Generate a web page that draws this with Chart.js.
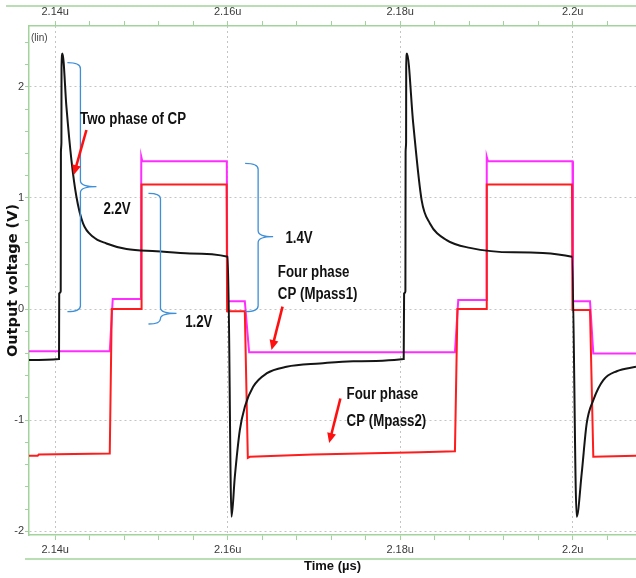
<!DOCTYPE html>
<html>
<head>
<meta charset="utf-8">
<script src="https://cdn.jsdelivr.net/npm/chart.js@4.4.1/dist/chart.umd.min.js"></script>
<style>
  html, body { margin: 0; padding: 0; background: #fff; }
  #wrap { width: 636px; height: 578px; }
</style>
</head>
<body>
<div id="wrap"><canvas id="cpChart" width="636" height="578"></canvas></div>
<script>
// time in us, voltage in V

// two phase charge pump (black)
const twoPhaseT = [2.136961, 2.140441, 2.140464, 2.140638, 2.140661, 2.140719, 2.140731, 2.140835,
  2.141299, 2.141879, 2.142459, 2.143225, 2.144385, 2.145940, 2.148260, 2.151740, 2.155603, 2.160012,
  2.160441, 2.160824, 2.161404, 2.161984, 2.162947, 2.164501, 2.166821, 2.170684, 2.174548, 2.180406,
  2.180452, 2.180603, 2.180626, 2.180684, 2.180696, 2.180777,
  2.181508, 2.182483, 2.183445, 2.185383, 2.188086, 2.193109, 2.199919,
  2.200464, 2.201044, 2.201624, 2.202390, 2.203550, 2.205104, 2.207343];
const twoPhaseV = [-0.46, -0.45, 0.14, 0.16, 1.41, 1.50, 2.17, 2.30,
  1.82, 1.34, 1.01, 0.77, 0.65, 0.59, 0.54, 0.52, 0.50, 0.47,
  -1.87, -1.51, -1.09, -0.88, -0.70, -0.58, -0.52, -0.49, -0.47, -0.45,
  0.14, 0.16, 1.41, 1.50, 2.17, 2.30,
  1.67, 0.98, 0.77, 0.62, 0.55, 0.51, 0.47,
  -1.87, -1.48, -1.03, -0.82, -0.64, -0.56, -0.52];

// four phase CP, Mpass1 (magenta)
const mpass1T = [2.136961, 2.146323, 2.146671, 2.149942, 2.149977, 2.150093, 2.159896, 2.159954,
  2.161984, 2.162483, 2.186346, 2.186729, 2.190000, 2.190035, 2.190174, 2.199977, 2.200035,
  2.202007, 2.202390, 2.207343];
const mpass1V = [-0.38, -0.38, 0.09, 0.09, 1.37, 1.33, 1.33, 0.07,
  0.07, -0.39, -0.39, 0.08, 0.08, 1.37, 1.33, 1.33, 0.07,
  0.07, -0.40, -0.40];

// four phase CP, Mpass2 (red)
const mpass2T = [2.136961, 2.137970, 2.138086, 2.146323, 2.146555, 2.149977, 2.150012, 2.159872,
  2.159930, 2.161984, 2.162332, 2.162564, 2.169872, 2.182285, 2.186346, 2.186636, 2.190000,
  2.190035, 2.199919, 2.199977, 2.202007, 2.202390, 2.207343];
const mpass2V = [-1.32, -1.32, -1.31, -1.30, 0.00, 0.00, 1.12, 1.12,
  -0.02, -0.02, -1.34, -1.33, -1.31, -1.29, -1.28, 0.00, 0.00,
  1.12, 1.12, -0.01, -0.01, -1.33, -1.32];

// axis ranges + labelled ticks
const tMin = 2.13696, tMax = 2.20734;
const vMin = -2.034, vMax = 2.547;
const xMajor = [2.14, 2.16, 2.18, 2.2];
const yMajor = [-2, -1, 0, 1, 2];

// annotations (in data units)
const braces = [
  { t: 2.142923, top: 2.217, mid: 1.101, bot: -0.024, hook: 13, tip: 16 },
  { t: 2.152204, top: 1.041, mid: -0.039, bot: -0.135, hook: 12, tip: 16 },
  { t: 2.163527, top: 1.311, mid: 0.651, bot: -0.024, hook: 13, tip: 15 }
];
const notes = [
  { text: 'Two phase of CP', t: 2.149026, v: 1.701, align: 'center' },
  { text: '2.2V', t: 2.147169, v: 0.891, align: 'center' },
  { text: '1.2V', t: 2.156647, v: -0.126, align: 'center' },
  { text: '1.4V', t: 2.168271, v: 0.636, align: 'center' },
  { text: 'Four phase', t: 2.165812, v: 0.327, align: 'left' },
  { text: 'CP (Mpass1)', t: 2.165812, v: 0.126, align: 'left' },
  { text: 'Four phase', t: 2.173782, v: -0.774, align: 'left' },
  { text: 'CP (Mpass2)', t: 2.173782, v: -1.014, align: 'left' }
];
const arrows = [
  { t1: 2.143619, v1: 1.611, t2: 2.142146, v2: 1.206 },
  { t1: 2.166357, v1: 0.021, t2: 2.165081, v2: -0.369 },
  { t1: 2.173063, v1: -0.806, t2: 2.171763, v2: -1.206 }
];

const GREEN = '#a3d39c';
const GRID = '#c4c4c4';
const TICK_FONT = { family: '"Liberation Sans", sans-serif', size: 11 };
const NOTE_FONT = 'bold 16px "Liberation Sans", sans-serif';
const NOTE_SQUEEZE = 0.83; // calibri-ish narrow look

const toPoints = (ts, vs) => ts.map((t, i) => ({ x: t, y: vs[i] }));
const isMajor = (list, v) => list.some(m => Math.abs(m - v) < 1e-6);

function drawBrace(ctx, x, yTop, yMid, yBot, hook, tip) {
  const r = Math.min(6, (yMid - yTop) / 2, (yBot - yMid) / 2);
  ctx.beginPath();
  ctx.moveTo(x - hook, yTop);
  ctx.quadraticCurveTo(x, yTop, x, yTop + r);
  ctx.lineTo(x, yMid - r);
  ctx.quadraticCurveTo(x, yMid, x + tip, yMid);
  ctx.moveTo(x + tip, yMid);
  ctx.quadraticCurveTo(x, yMid, x, yMid + r);
  ctx.lineTo(x, yBot - r);
  ctx.quadraticCurveTo(x, yBot, x - hook, yBot);
  ctx.stroke();
}

function drawArrow(ctx, x1, y1, x2, y2) {
  const a = Math.atan2(y2 - y1, x2 - x1);
  const head = 10, half = 4.5;
  ctx.beginPath();
  ctx.moveTo(x1, y1);
  ctx.lineTo(x2 - Math.cos(a) * head * 0.7, y2 - Math.sin(a) * head * 0.7);
  ctx.stroke();
  ctx.beginPath();
  ctx.moveTo(x2, y2);
  ctx.lineTo(x2 - head * Math.cos(a) + half * Math.sin(a), y2 - head * Math.sin(a) - half * Math.cos(a));
  ctx.lineTo(x2 - head * Math.cos(a) - half * Math.sin(a), y2 - head * Math.sin(a) + half * Math.cos(a));
  ctx.closePath();
  ctx.fill();
}

// frame lines of the waveform viewer + "(lin)" tag
const framePlugin = {
  id: 'frame',
  afterDraw(chart) {
    const { ctx, chartArea, width } = chart;
    ctx.save();
    ctx.strokeStyle = GREEN;
    ctx.lineWidth = 1.5;
    ctx.beginPath();
    ctx.moveTo(6, 6); ctx.lineTo(width, 6);
    ctx.moveTo(chartArea.left - 4, 559); ctx.lineTo(width, 559);
    ctx.stroke();
    ctx.fillStyle = '#444';
    ctx.font = '10px "Liberation Sans", sans-serif';
    ctx.textAlign = 'left';
    ctx.textBaseline = 'middle';
    ctx.fillText('(lin)', chartArea.left + 2, chartArea.top + 12);
    ctx.restore();
  }
};

const notesPlugin = {
  id: 'notes',
  afterDatasetsDraw(chart) {
    const { ctx, scales: { x, y } } = chart;
    const X = t => x.getPixelForValue(t);
    const Y = v => y.getPixelForValue(v);
    ctx.save();
    ctx.strokeStyle = '#3d8fd8';
    ctx.lineWidth = 1.3;
    braces.forEach(b => drawBrace(ctx, X(b.t), Y(b.top), Y(b.mid), Y(b.bot), b.hook, b.tip));

    ctx.strokeStyle = '#ff1010';
    ctx.fillStyle = '#ff1010';
    ctx.lineWidth = 2.6;
    arrows.forEach(a => drawArrow(ctx, X(a.t1), Y(a.v1), X(a.t2), Y(a.v2)));

    ctx.fillStyle = '#111';
    ctx.font = NOTE_FONT;
    ctx.textBaseline = 'middle';
    notes.forEach(n => {
      ctx.save();
      ctx.translate(X(n.t), Y(n.v));
      ctx.scale(NOTE_SQUEEZE, 1);
      ctx.textAlign = n.align;
      ctx.fillText(n.text, 0, 0);
      ctx.restore();
    });
    ctx.restore();
  }
};

const xTicks = {
  stepSize: 0.004,
  includeBounds: false,
  autoSkip: false,
  maxRotation: 0,
  color: '#3a3a3a',
  font: TICK_FONT,
  callback: v => isMajor(xMajor, v) ? String(+v.toFixed(3)) + 'u' : ''
};

new Chart(document.getElementById('cpChart'), {
  type: 'line',
  data: {
    datasets: [
      { label: 'Two phase of CP', data: toPoints(twoPhaseT, twoPhaseV),
        borderColor: '#151515', borderWidth: 2, pointRadius: 0, cubicInterpolationMode: 'monotone' },
      { label: 'Four phase CP (Mpass2)', data: toPoints(mpass2T, mpass2V),
        borderColor: '#ff1c1c', borderWidth: 2, pointRadius: 0 },
      { label: 'Four phase CP (Mpass1)', data: toPoints(mpass1T, mpass1V),
        borderColor: '#ff2cff', borderWidth: 2, pointRadius: 0 }
    ]
  },
  options: {
    responsive: false,
    animation: false,
    layout: { padding: 0 },
    plugins: { legend: { display: false }, tooltip: { enabled: false } },
    scales: {
      x: {
        type: 'linear', position: 'bottom', min: tMin, max: tMax,
        afterFit: s => { s.height = 43; },
        ticks: { ...xTicks, padding: 3 },
        grid: {
          color: c => (c.tick && isMajor(xMajor, c.tick.value)) ? GRID : 'rgba(0,0,0,0)',
          tickColor: GREEN, tickLength: 5, lineWidth: 1
        },
        border: { color: GREEN, width: 1.5, dash: [2, 3] },
        title: { display: true, text: 'Time (µs)', color: '#111',
          font: { family: '"Liberation Sans", sans-serif', size: 13, weight: 'bold' },
          padding: { top: 0, bottom: 4 } }
      },
      xTop: {
        type: 'linear', position: 'top', min: tMin, max: tMax,
        afterFit: s => { s.height = 26; },
        ticks: { ...xTicks, padding: 2 },
        grid: { drawOnChartArea: false, tickColor: GREEN, tickLength: 5 },
        border: { color: GREEN, width: 1.5 }
      },
      y: {
        type: 'linear', position: 'left', min: vMin, max: vMax,
        afterFit: s => { s.width = 29; },
        ticks: {
          stepSize: 0.2, includeBounds: false, autoSkip: false,
          color: '#3a3a3a', font: TICK_FONT, padding: 1,
          callback: v => isMajor(yMajor, v) ? String(Math.round(v)) : ''
        },
        grid: {
          color: c => (c.tick && isMajor(yMajor, c.tick.value)) ? GRID : 'rgba(0,0,0,0)',
          tickColor: GREEN, tickLength: 4, lineWidth: 1
        },
        border: { color: GREEN, width: 1.5, dash: [2, 3] },
        title: { display: true, text: 'Output voltage (V)', color: '#111',
          font: { family: '"DejaVu Sans", sans-serif', size: 14.5, weight: 'bold' },
          padding: { top: 5, bottom: 0 } }
      }
    }
  },
  plugins: [framePlugin, notesPlugin]
});
</script>
</body>
</html>
